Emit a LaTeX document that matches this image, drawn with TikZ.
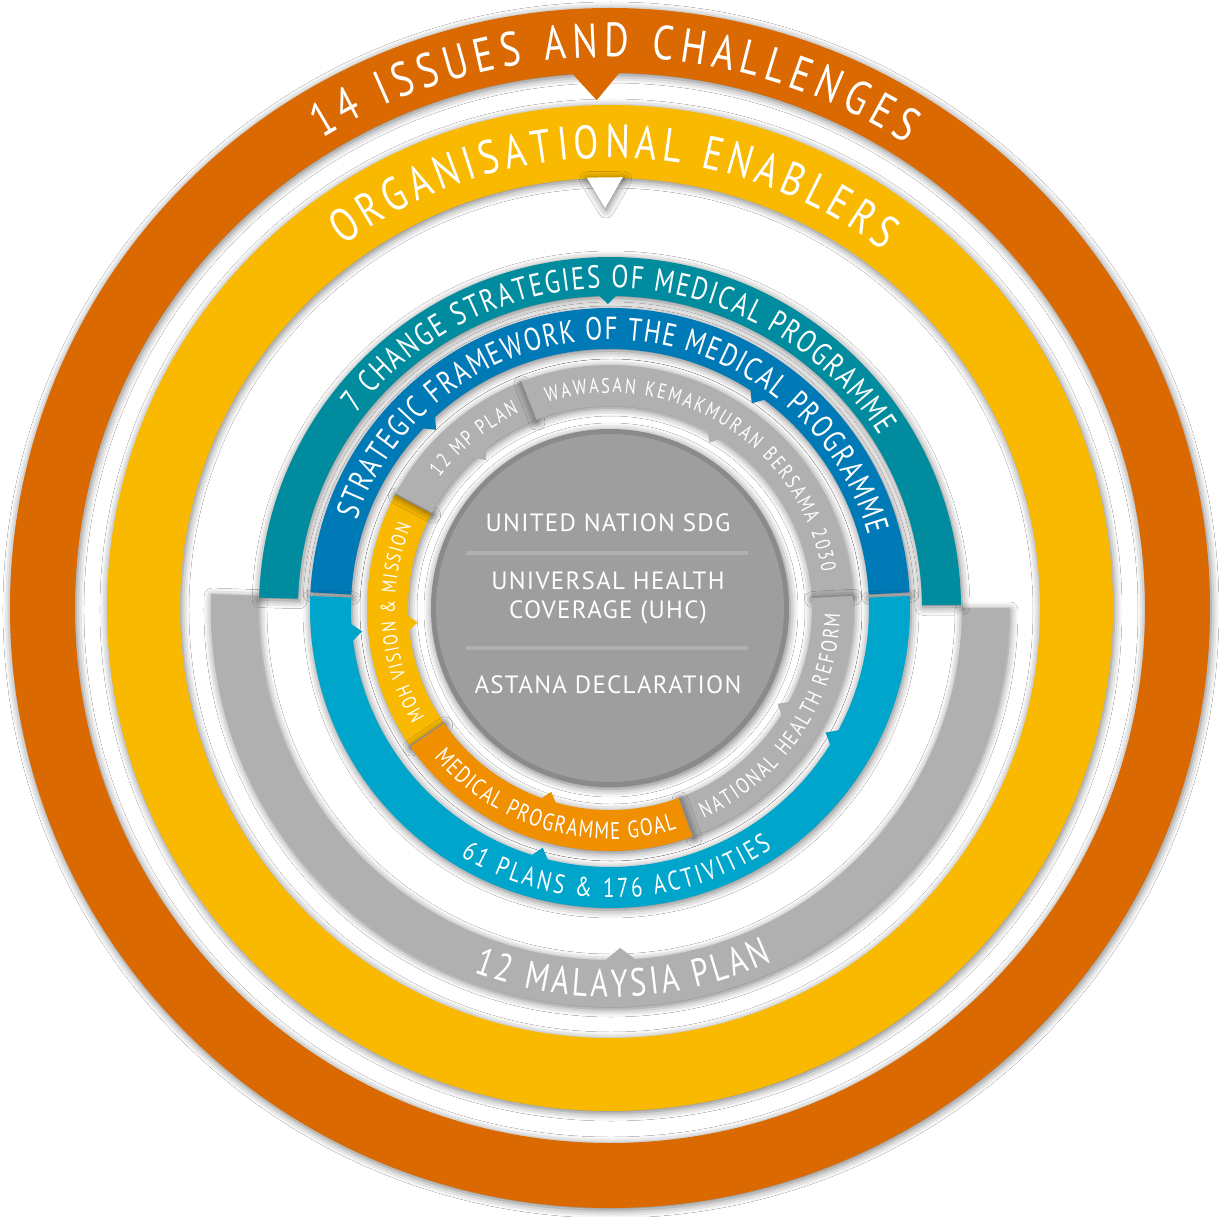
\documentclass[tikz,border=0pt]{standalone}
\usepackage{fontspec}
\setmainfont{PT Sans}
\newfontfamily\ringfont[FakeStretch=0.78]{PT Sans}
\newfontfamily\corefont[LetterSpace=5]{PT Sans}
\usetikzlibrary{
    shadows,
    shadows.blur,
    decorations.text
}

\definecolor{issuesorange}{RGB}{217,105,0}
\definecolor{enableryellow}{RGB}{248,185,0}
\definecolor{strategyteal}{RGB}{0,139,158}
\definecolor{frameblue}{RGB}{0,121,183}
\definecolor{planblue}{RGB}{0,165,203}
\definecolor{plangrey}{RGB}{176,176,176}
\definecolor{goalorange}{RGB}{240,143,0}
\definecolor{coregrey}{RGB}{158,158,158}
\definecolor{rimgrey}{RGB}{138,138,138}

% ring piece: colour, from angle, to angle, inner r, outer r
\newcommand{\ringpart}[5]{\fill[#1,ringshadow] (#2:#5) arc[start angle=#2,end angle=#3,radius=#5] -- (#3:#4) arc[start angle=#3,end angle=#2,radius=#4] -- cycle;}
% pointer on the inner edge: colour, angle, r, half width, depth
\newcommand{\ringtip}[5]{\fill[#1] ({#2+#4/#3*57.3}:{#3+1}) -- (#2:{#3-#5}) -- ({#2-#4/#3*57.3}:{#3+1}) -- cycle;}
% text along an arc: from angle, to angle, baseline r, size, text
\newcommand{\arclabel}[5]{\path[decorate,decoration={text along path,text align={fit to path},text={|\ringfont\fontsize{#4}{#4}\selectfont\color{white}|#5}}] (#1:#3) arc[start angle=#1,end angle=#2,radius=#3];}

\begin{document}
\begin{tikzpicture}[x=1pt,y=1pt,
    ringshadow/.style={blur shadow={shadow xshift=1pt,shadow yshift=-2pt,shadow blur radius=8pt,shadow opacity=55}},
    segline/.style={black!45,line width=1.2pt},
    coretext/.style={text=white,font=\corefont\fontsize{25}{29}\selectfont,align=center}]
    \useasboundingbox[fill=white] (-610,-609) rectangle (613,608);

    % outer rings
    \ringpart{issuesorange}{0}{360}{535}{600}
    \ringtip{issuesorange}{91.5}{535}{24}{27}
    \ringpart{enableryellow}{0}{360}{430}{503}
    \ringtip{white,ringshadow}{90.7}{430}{18}{30}

    % half rings
    \ringpart{plangrey}{178}{360}{352}{399}
    \ringtip{plangrey}{271.7}{352}{16}{12}
    \ringpart{strategyteal}{0.5}{178.3}{312}{351}
    \ringtip{strategyteal}{90.4}{312}{9}{8}
    \ringpart{frameblue}{3}{177}{259}{300}
    \ringtip{frameblue}{134.3}{259}{9}{10}
    \ringtip{frameblue}{55.3}{259}{9}{10}
    \ringpart{planblue}{177.7}{362.3}{259}{300}
    \foreach \a in {185.4,254.3,330}
        \ringtip{planblue}{\a}{259}{9}{10};

    % inner segments
    \ringpart{enableryellow}{152}{214.6}{202}{243}
    \ringpart{plangrey}{111.5}{152}{202}{243}
    \ringpart{plangrey}{3}{111.5}{202}{243}
    \ringpart{plangrey}{-70}{3}{202}{243}
    \ringpart{goalorange}{214.6}{290}{202}{243}
    \foreach \a in {152,111.5,3,-70,214.6}
        \draw[segline] (\a:202) -- (\a:243);
    \ringtip{enableryellow}{184.3}{202}{8}{9}
    \ringtip{plangrey}{130}{202}{8}{9}
    \ringtip{plangrey}{59}{202}{8}{9}
    \ringtip{plangrey}{-29.8}{202}{8}{9}
    \ringtip{goalorange}{-107.7}{202}{8}{9}

    % core
    \fill[rimgrey,ringshadow] (0,0) circle[radius=179];
    \fill[coregrey] (0,0) circle[radius=174];
    \draw[plangrey,line width=4pt] (-144,55) -- (138,55);
    \draw[plangrey,line width=4pt] (-144,-40) -- (138,-40);
    \node[coretext] (sdg) at (-2,85) {UNITED NATION SDG};
    \node[coretext] (uhc) at (-2,10) {UNIVERSAL HEALTH\\COVERAGE (UHC)};
    \node[coretext] (astana) at (-2,-77) {ASTANA DECLARATION};

    % labels on the rings
    \arclabel{121.5}{57.5}{551}{48}{14 ISSUES AND CHALLENGES}
    \arclabel{126.3}{52.6}{450}{47}{ORGANISATIONAL ENABLERS}
    \arclabel{142.5}{32.5}{320}{32}{7 CHANGE STRATEGIES OF MEDICAL PROGRAMME}
    \arclabel{161}{15.8}{268}{32}{STRATEGIC FRAMEWORK OF THE MEDICAL PROGRAMME}
    \arclabel{-121}{-56}{290}{27}{61 PLANS {\&} 176 ACTIVITIES}
    \arclabel{-110.5}{-65.3}{389}{39}{12 MALAYSIA PLAN}
    \arclabel{142.5}{115}{215}{21}{12 MP PLAN}
    \arclabel{107}{9.5}{215}{21}{WAWASAN KEMAKMURAN BERSAMA 2030}
    \arclabel{-66}{-1.5}{230}{22}{NATIONAL HEALTH REFORM}
    \arclabel{-139.7}{-73.2}{231}{24}{MEDICAL PROGRAMME GOAL}
    \arclabel{210.5}{157.5}{215}{20}{MOH VISION {\&} MISSION}
\end{tikzpicture}
\end{document}
